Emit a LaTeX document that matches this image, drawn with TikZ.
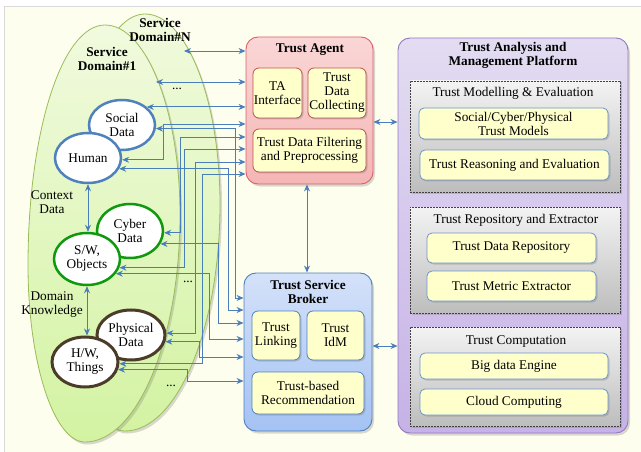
\documentclass[tikz,border=0pt]{standalone}
\usepackage{fontspec}
\setmainfont{Liberation Serif}
\usetikzlibrary{arrows.meta,shapes.geometric,shadows}
\definecolor{bg}{HTML}{FEFEEE}
\definecolor{arr}{HTML}{4A7EBB}
\definecolor{egreen}{HTML}{9BBB59}
\definecolor{etop}{HTML}{F1FADE}
\definecolor{ebot}{HTML}{D3F3A2}
\definecolor{eblue}{HTML}{4F81BD}
\definecolor{egrn}{HTML}{10990F}
\definecolor{ebrn}{HTML}{4A3C28}
\definecolor{tared}{HTML}{D9626B}
\definecolor{tainner}{HTML}{C0504D}
\definecolor{tatop}{HTML}{FAD6D6}
\definecolor{tabot}{HTML}{F5B5B5}
\definecolor{brblue}{HTML}{4F81BD}
\definecolor{brtop}{HTML}{D4E1F9}
\definecolor{brbot}{HTML}{A4C2F4}
\definecolor{plpur}{HTML}{9479C4}
\definecolor{pltop}{HTML}{E3DCF2}
\definecolor{plbot}{HTML}{C6B2E6}
\definecolor{grtop}{HTML}{F3F3F3}
\definecolor{grbot}{HTML}{BDBDBD}
\definecolor{inyel}{HTML}{FFFFCC}
\definecolor{plin}{HTML}{6A94CF}
\newcommand\fsz{\fontsize{13.3}{14}\selectfont}
\begin{document}
\begin{tikzpicture}[x=1pt,y=-1pt,font=\fsz,
  conn/.style={draw=arr, line width=0.9pt, {Stealth[length=7pt,width=6pt]}-{Stealth[length=7pt,width=6pt]}},
  shad/.style={drop shadow={opacity=0.3, shadow xshift=2pt, shadow yshift=-2.5pt}},
  smallshad/.style={drop shadow={opacity=0.35, shadow xshift=1.5pt, shadow yshift=-1.5pt}},
  dataell/.style={ellipse, fill=white, line width=2.5pt, inner sep=0pt, align=center},
  bigbox/.style={rounded corners=12pt, line width=0.9pt, shad, inner sep=0pt},
  tabox/.style={draw=tainner, fill=inyel, rounded corners=6pt, line width=0.8pt, align=center, smallshad, inner sep=0pt},
  brbox/.style={draw=brblue, fill=inyel, rounded corners=6pt, line width=0.8pt, align=center, smallshad, inner sep=0pt},
  plbox/.style={draw=plin, fill=inyel, rounded corners=5pt, line width=0.8pt, align=center, smallshad, inner sep=0pt},
  grp/.style={draw=black!75, dash pattern=on 2pt off 1pt, line width=0.8pt, top color=grtop, bottom color=grbot, smallshad, inner sep=0pt, minimum width=210, align=center},
  ttl/.style={font=\fsz\bfseries, align=center},
  lbl/.style={align=center}]
\useasboundingbox (0,0) rectangle (641,452);
\fill[white] (0,0) rectangle (641,452);
\filldraw[fill=bg, draw=black!15, line width=1pt] (4,7) rectangle (660,470);

% service domain ellipses
\begin{scope}[shift={(40,-11)}]
\path[draw=egreen, line width=0.8pt, top color=etop, bottom color=ebot, shad]
  (105,25) .. controls (146,25) and (180,110) .. (180,215)
  .. controls (180,340) and (137,442) .. (85,442)
  .. controls (54,442) and (28,363) .. (28,265)
  .. controls (28,132) and (62,25) .. (105,25) -- cycle;
\end{scope}
\path[draw=egreen, line width=0.8pt, top color=etop, bottom color=ebot, shad]
  (105,25) .. controls (146,25) and (180,110) .. (180,215)
  .. controls (180,340) and (137,442) .. (85,442)
  .. controls (54,442) and (28,363) .. (28,265)
  .. controls (28,132) and (62,25) .. (105,25) -- cycle;

\node[ttl] (dN) at (160,30) {Service\\Domain\#N};
\node[ttl] (d1) at (107,59) {Service\\Domain\#1};
\node[lbl] (ctx) at (52,202) {Context\\Data};
\node[lbl] (dk) at (52,305) {Domain\\Knowledge};
\node (dots1) at (177,89) {...};
\node (dots2) at (188,282) {...};
\node (dots3) at (171,386) {...};

% data ellipses
\node[dataell, draw=eblue, minimum width=66, minimum height=50] (sd) at (122,125) {Social\\Data};
\node[dataell, draw=eblue, minimum width=66, minimum height=50] (hu) at (88,158) {Human};
\node[dataell, draw=egrn, minimum width=66, minimum height=54] (cd) at (130,231) {Cyber\\Data};
\node[dataell, draw=egrn, minimum width=66, minimum height=52] (sw) at (87,259) {S/W,\\Objects};
\node[dataell, draw=ebrn, line width=3pt, minimum width=68, minimum height=50] (pd) at (131,335) {Physical\\Data};
\node[dataell, draw=ebrn, line width=3pt, minimum width=66, minimum height=50] (hw) at (85,362) {H/W,\\Things};

% Trust Agent
\node[bigbox, draw=tared, top color=tatop, bottom color=tabot, minimum width=127, minimum height=147] (TA) at (309.5,110.5) {};
\node[ttl] (TAt) at (310,50) {Trust Agent};
\node[tabox, minimum width=49, minimum height=50] (tai) at (277.5,93) {TA\\Interface};
\node[tabox, minimum width=58, minimum height=50] (tdc) at (337,93) {Trust\\Data\\Collecting};
\node[tabox, minimum width=113, minimum height=43] (tdf) at (309.5,150.5) {Trust Data Filtering\\and Preprocessing};

% Trust Service Broker
\node[bigbox, draw=brblue, top color=brtop, bottom color=brbot, minimum width=128, minimum height=158] (BR) at (308,352) {};
\node[ttl] (BRt) at (308,292) {Trust Service\\Broker};
\node[brbox, minimum width=48, minimum height=49] (tl) at (276,335.5) {Trust\\Linking};
\node[brbox, minimum width=57, minimum height=49] (tid) at (335.5,335.5) {Trust\\IdM};
\node[brbox, minimum width=112, minimum height=42] (trc) at (308,393) {Trust-based\\Recommendation};

% Platform
\node[bigbox, draw=plpur, top color=pltop, bottom color=plbot, minimum width=230, minimum height=395] (PL) at (513,235.5) {};
\node[ttl] (PLt) at (513,55) {Trust Analysis and\\Management Platform};
\node[grp, minimum height=111] (g1) at (515,136.5) {};
\node (g1t) at (513,93) {Trust Modelling \& Evaluation};
\node[plbox, minimum width=189, minimum height=31] (scp) at (513.5,123.5) {Social/Cyber/Physical\\Trust Models};
\node[plbox, minimum width=189, minimum height=30] (tre) at (514.5,165) {Trust Reasoning and Evaluation};
\node[grp, minimum height=106] (g2) at (515,260) {};
\node (g2t) at (516,220) {Trust Repository and Extractor};
\node[plbox, minimum width=169, minimum height=30] (tdr) at (511.5,248) {Trust Data Repository};
\node[plbox, minimum width=169, minimum height=30] (tme) at (511.5,286) {Trust Metric Extractor};
\node[grp, minimum height=99] (g3) at (515,376.5) {};
\node (g3t) at (516,342) {Trust Computation};
\node[plbox, minimum width=188, minimum height=26] (bde) at (514,366) {Big data Engine};
\node[plbox, minimum width=188, minimum height=26] (cc) at (514,402) {Cloud Computing};

% connectors
\coordinate (nE) at (184,51);
\coordinate (oE) at (156,82);
\draw[conn] (nE) -- (nE -| TA.west);
\draw[conn] (oE) -- (oE -| TA.west);
\draw[conn] (sd.36) -- (sd.36 -| TA.west);
\draw[conn] (hu.-3.4) -| (163,124) -- (TA.west |- 0,124);
\draw[conn] (cd.-3.4) -| (180,137) -- (TA.west |- 0,137);
\draw[conn] (sw.-15.7) -| (184,149) -- (TA.west |- 0,149);
\draw[conn] (pd.3.3) -| (195,162) -- (TA.west |- 0,162);
\draw[conn] (hw.-3.4) -| (202,174) -- (TA.west |- 0,174);

\draw[conn] (sd.-6.8) -| (235,298) -- (BR.west |- 0,298);
\draw[conn] (hu.-19.6) -| (228,310) -- (BR.west |- 0,310);
\draw[conn] (cd.-23.4) -| (218,323) -- (BR.west |- 0,323);
\draw[conn] (sw.-27.9) -| (209,339) -- (BR.west |- 0,339);
\draw[conn] (pd.-11.7) -| (199,357) -- (BR.west |- 0,357);
\draw[conn] (hw.-13.9) -| (187,381) -- (BR.west |- 0,381);

\draw[conn] (hu.south) -- (hu.south |- sw.north);
\draw[conn] (sw.south) -- (sw.south |- hw.north);

\draw[conn] (TA.south -| 307,0) -- (BR.north -| 307,0);
\draw[conn] (TA.east |- 0,122) -- (PL.west |- 0,122);
\draw[conn] (BR.east |- 0,346) -- (PL.west |- 0,346);
\end{tikzpicture}
\end{document}
